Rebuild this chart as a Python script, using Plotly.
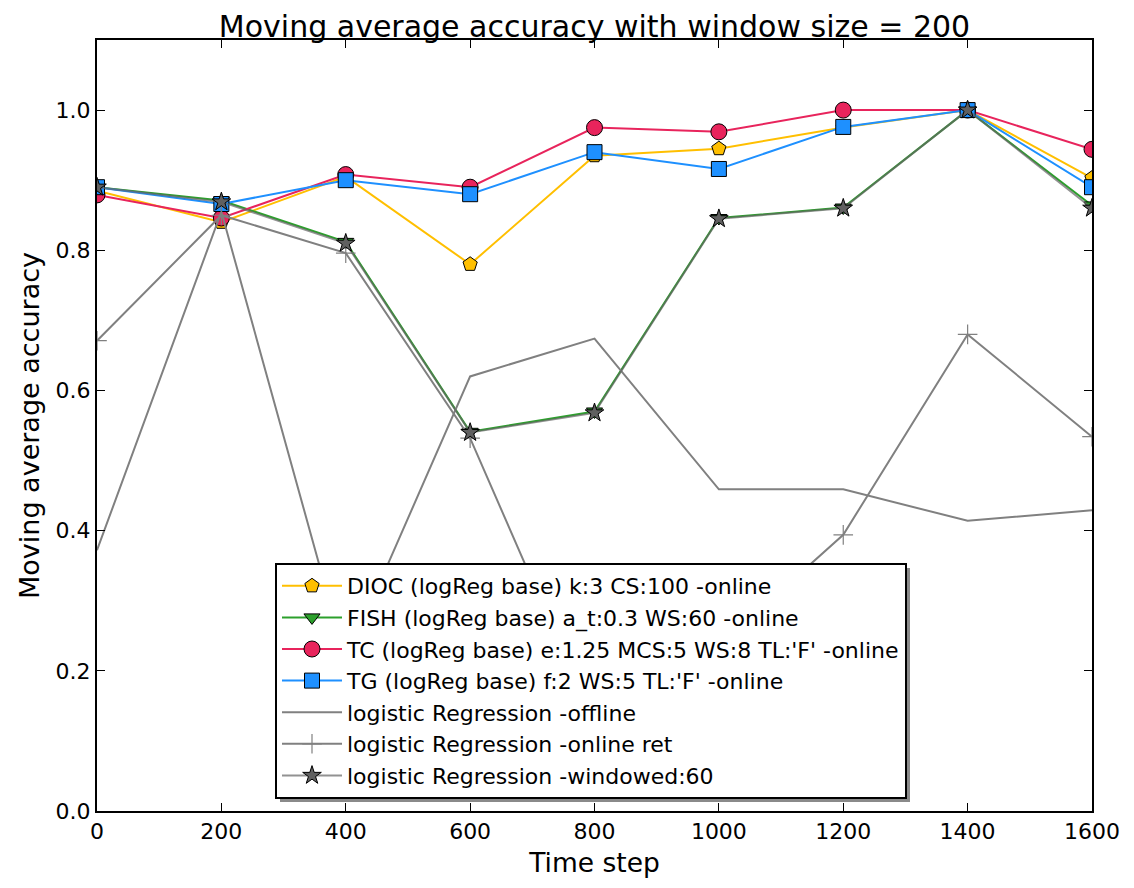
import plotly.graph_objects as go

time_steps = [0, 200, 400, 600, 800, 1000, 1200, 1400, 1600]

dioc = [0.885, 0.84, 0.905, 0.78, 0.935, 0.945, 0.975, 1.0, 0.903]
fish = [0.89, 0.871, 0.812, 0.541, 0.57, 0.846, 0.861, 1.0, 0.864]
tc = [0.879, 0.846, 0.908, 0.89, 0.975, 0.969, 1.0, 1.0, 0.944]
tg = [0.89, 0.866, 0.90, 0.88, 0.94, 0.916, 0.976, 1.0, 0.89]
offline = [0.372, 0.855, 0.215, 0.62, 0.674, 0.459, 0.459, 0.414, 0.429]
online_ret = [0.671, 0.85, 0.796, 0.532, 0.125, 0.235, 0.394, 0.68, 0.534]
windowed = [0.89, 0.869, 0.81, 0.54, 0.568, 0.845, 0.86, 1.0, 0.86]

names = [
    "DIOC (logReg base) k:3 CS:100 -online",
    "FISH (logReg base) a_t:0.3 WS:60 -online",
    "TC (logReg base) e:1.25 MCS:5 WS:8 TL:'F' -online",
    "TG (logReg base) f:2 WS:5 TL:'F' -online",
    "logistic Regression -offline",
    "logistic Regression -online ret",
    "logistic Regression -windowed:60",
]

fig = go.Figure()

def add(y, name, color, symbol, size, mfill=None, mline="black", lw=2):
    mode = "lines+markers" if symbol else "lines"
    marker = None
    if symbol:
        marker = dict(symbol=symbol, size=size, color=mfill or color,
                      line=dict(color=mline, width=1))
    fig.add_trace(go.Scatter(x=time_steps, y=y, name=name, mode=mode,
                             line=dict(color=color, width=lw),
                             marker=marker))

add(dioc, names[0], "#FFBF00", "pentagon", 15)
add(fish, names[1], "#2CA02C", "triangle-down", 14)
add(tc, names[2], "#E8245C", "circle", 16)
add(tg, names[3], "#1E90FF", "square", 15)
add(offline, names[4], "#808080", None, 0)
fig.add_trace(go.Scatter(x=time_steps, y=online_ret, name=names[5], mode="lines+markers",
                         line=dict(color="#808080", width=2),
                         marker=dict(symbol="cross-thin", size=14, color="#808080",
                                     line=dict(color="#808080", width=1.2))))
add(windowed, names[6], "rgba(100,100,100,0.7)", "star", 14, mfill="#606060")

# plot area (page pixels): x 97..1092, y 40..811 ; figure is offset 8px by page margin
W, H = 1126, 880
L, R, T, B = 89, 42, 32, 77
pw, ph = W - L - R, H - T - B

def px_x(p):
    return (p - 8 - L) / pw

def px_y(p):
    return (H - B - (p - 8)) / ph

fig.add_shape(type="rect", xref="paper", yref="paper",
              x0=px_x(280), x1=px_x(910), y0=px_y(802), y1=px_y(568),
              fillcolor="#8a8a8a", line=dict(width=0), layer="above")

fig.update_layout(
    width=W, height=H,
    paper_bgcolor="white", plot_bgcolor="white",
    margin=dict(l=L, r=R, t=T, b=B, autoexpand=False),
    font=dict(family="DejaVu Sans", color="black"),
    title=dict(text="Moving average accuracy with window size = 200",
               x=0.5, xanchor="center", xref="paper",
               y=1 - 18 / H, yanchor="middle",
               font=dict(size=30, family="DejaVu Sans")),
    showlegend=True,
    legend=dict(x=px_x(275), y=px_y(563), xanchor="left", yanchor="top",
                bgcolor="white", bordercolor="black", borderwidth=2,
                font=dict(size=22, family="DejaVu Sans"),
                itemwidth=60),
)
fig.update_xaxes(range=[0, 1600], tickvals=time_steps,
                 ticktext=[str(t) for t in time_steps],
                 ticks="inside", ticklen=8, tickcolor="black", tickwidth=1,
                 showline=True, linecolor="black", linewidth=2, mirror="ticks",
                 showgrid=False, zeroline=False, automargin=False,
                 tickfont=dict(size=22),
                 title=dict(text="Time step", font=dict(size=26.5), standoff=10))
fig.update_yaxes(range=[0, 1.1], tickvals=[0, 0.2, 0.4, 0.6, 0.8, 1.0],
                 ticktext=["0.0", "0.2", "0.4", "0.6", "0.8", "1.0"],
                 ticks="inside", ticklen=8, tickcolor="black", tickwidth=1,
                 showline=True, linecolor="black", linewidth=2, mirror="ticks",
                 showgrid=False, zeroline=False, automargin=False,
                 tickfont=dict(size=22),
                 title=dict(text="Moving average accuracy", font=dict(size=27), standoff=8))

fig.write_html("out.html")
